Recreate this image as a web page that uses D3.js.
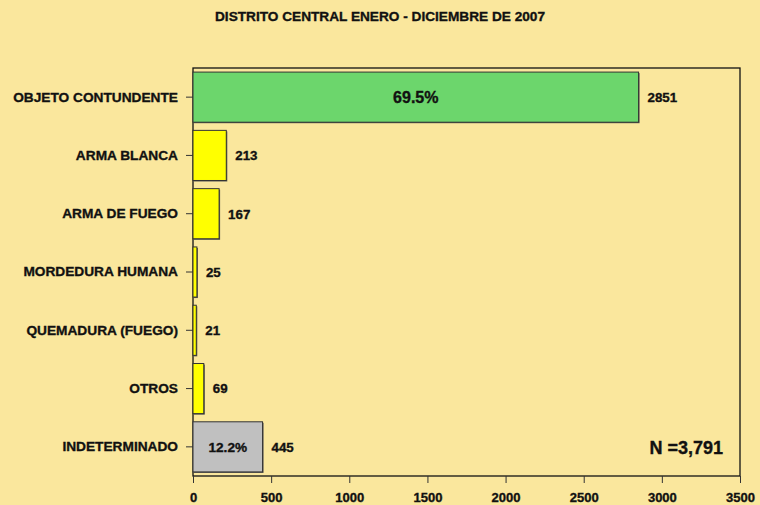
<!DOCTYPE html>
<html><head><meta charset="utf-8">
<script src="https://cdn.jsdelivr.net/npm/d3@7"></script>
<style>body{margin:0;background:#FAE79D;}svg{display:block;font-family:"Liberation Sans",Arial,sans-serif;font-weight:bold;}</style>
</head><body>
<svg id="c" width="760" height="505"></svg>
<script>
const categories = ["OBJETO CONTUNDENTE","ARMA BLANCA","ARMA DE FUEGO","MORDEDURA HUMANA","QUEMADURA (FUEGO)","OTROS","INDETERMINADO"];
const values = [2851,213,167,25,21,69,445];
const colors = ["#6CD66C","#FFFF00","#FFFF00","#FFFF00","#FFFF00","#FFFF00","#C0C0C0"];
const insideLabels = ["69.5%","","","","","","12.2%"];
const xTicks = [0,500,1000,1500,2000,2500,3000,3500];
const title = "DISTRITO CENTRAL ENERO - DICIEMBRE DE 2007";
const totalLabel = "N =3,791";

const svg = d3.select("#c");
const L=193, R=740, T=68, B=476;
const ink="#111", halo=0.35;
svg.append("rect").attr("width",760).attr("height",505).attr("fill","#FAE79D");
const x = d3.scaleLinear().domain([0,3500]).range([L,R]);
const y = d3.scaleBand().domain(categories).range([T,B]).paddingInner(0.14).paddingOuter(0.07);

function boldify(s){ return s.attr("fill",ink).attr("stroke",ink).attr("stroke-width",halo); }

boldify(svg.append("text").attr("x",380).attr("y",21).attr("text-anchor","middle").attr("font-size",13.5)
  .attr("textLength",330).attr("lengthAdjust","spacingAndGlyphs").text(title));

svg.append("rect").attr("x",L).attr("y",T).attr("width",R-L).attr("height",B-T).attr("fill","none").attr("stroke","#111").attr("stroke-width",1.3);

const g = svg.append("g");
categories.forEach((c,i)=>{
  const y0=y(c), h=y.bandwidth(), w=x(values[i])-x(0);
  g.append("rect").attr("x",x(0)+1).attr("y",y0+1).attr("width",w).attr("height",h).attr("fill","#555");
  g.append("rect").attr("x",x(0)).attr("y",y0).attr("width",w).attr("height",h).attr("fill",colors[i]).attr("stroke","#333").attr("stroke-width",1);
  boldify(g.append("text").attr("x",x(values[i])+9).attr("y",y0+h/2).attr("dy","0.36em").attr("font-size",13.3).text(values[i]));
  if(insideLabels[i]){
    boldify(g.append("text").attr("x",x(0)+w/2).attr("y",y0+h/2).attr("dy","0.36em").attr("text-anchor","middle")
     .attr("font-size",i===0?16:13.6).text(insideLabels[i]));
  }
});

const ya = svg.append("g").attr("transform",`translate(${L},0)`).call(d3.axisLeft(y).tickSize(7).tickPadding(8));
ya.select(".domain").remove();
ya.selectAll("line").attr("stroke","#333");
boldify(ya.selectAll("text").attr("font-size",13.7).attr("font-family","Liberation Sans, Arial, sans-serif").attr("font-weight","bold"));

const xa = svg.append("g").attr("transform",`translate(0,${B})`).call(d3.axisBottom(x).tickValues(xTicks).tickSize(7).tickPadding(10).tickFormat(d3.format("d")));
xa.select(".domain").remove();
xa.selectAll("line").attr("stroke","#333");
boldify(xa.selectAll("text").attr("font-size",13).attr("font-family","Liberation Sans, Arial, sans-serif").attr("font-weight","bold"));

boldify(svg.append("text").attr("x",723).attr("y",454).attr("text-anchor","end").attr("font-size",18).text(totalLabel));
</script>
</body></html>
